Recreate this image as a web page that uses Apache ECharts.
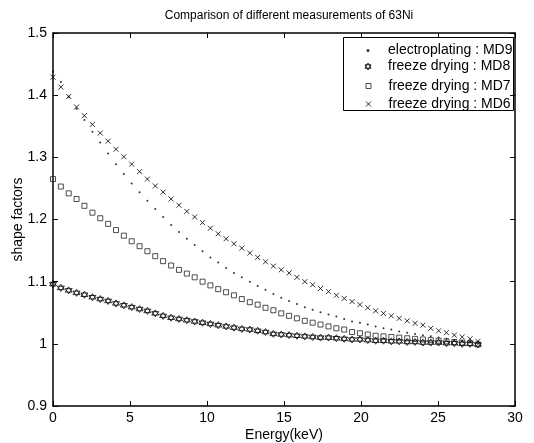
<!DOCTYPE html>
<html>
<head>
<meta charset="utf-8">
<script src="https://cdn.jsdelivr.net/npm/echarts@6/dist/echarts.min.js"></script>
<style>
html,body{margin:0;padding:0;background:#fff;}
#chart{width:534px;height:443px;}
</style>
</head>
<body>
<div id="chart"></div>
<script>
const energies = [0, 0.51, 1.02, 1.53, 2.04, 2.56, 3.07, 3.58, 4.09, 4.6, 5.11, 5.62, 6.13, 6.64, 7.15, 7.67, 8.18, 8.69, 9.2, 9.71, 10.22, 10.73, 11.24, 11.75, 12.26, 12.78, 13.29, 13.8, 14.31, 14.82, 15.33, 15.84, 16.35, 16.86, 17.37, 17.89, 18.4, 18.91, 19.42, 19.93, 20.44, 20.95, 21.46, 21.97, 22.48, 23.0, 23.51, 24.02, 24.53, 25.04, 25.55, 26.06, 26.57, 27.08, 27.59];

const md9 = [1.438, 1.421, 1.397, 1.378, 1.360, 1.341, 1.324, 1.306, 1.289, 1.273, 1.258, 1.244, 1.230, 1.217, 1.204, 1.191, 1.180, 1.169, 1.159, 1.149, 1.139, 1.131, 1.122, 1.114, 1.107, 1.100, 1.093, 1.087, 1.080, 1.074, 1.069, 1.064, 1.059, 1.055, 1.051, 1.047, 1.044, 1.040, 1.036, 1.034, 1.031, 1.028, 1.025, 1.023, 1.020, 1.018, 1.016, 1.014, 1.012, 1.010, 1.008, 1.006, 1.004, 1.002, 1.000];

const md8 = [1.096, 1.090, 1.086, 1.082, 1.079, 1.075, 1.072, 1.069, 1.065, 1.062, 1.059, 1.056, 1.053, 1.049, 1.045, 1.042, 1.040, 1.038, 1.036, 1.034, 1.032, 1.030, 1.028, 1.026, 1.024, 1.023, 1.021, 1.019, 1.016, 1.015, 1.014, 1.013, 1.012, 1.011, 1.010, 1.010, 1.009, 1.008, 1.007, 1.007, 1.006, 1.005, 1.005, 1.004, 1.004, 1.003, 1.003, 1.002, 1.002, 1.002, 1.001, 1.001, 1.000, 1.000, 0.999];

const md7 = [1.265, 1.253, 1.242, 1.233, 1.222, 1.211, 1.202, 1.193, 1.183, 1.174, 1.165, 1.157, 1.149, 1.141, 1.133, 1.126, 1.119, 1.113, 1.107, 1.100, 1.094, 1.088, 1.083, 1.078, 1.072, 1.067, 1.063, 1.058, 1.054, 1.049, 1.045, 1.041, 1.037, 1.034, 1.031, 1.028, 1.025, 1.023, 1.019, 1.017, 1.015, 1.013, 1.012, 1.011, 1.010, 1.009, 1.008, 1.007, 1.006, 1.005, 1.004, 1.003, 1.002, 1.001, 0.999];

const md6 = [1.429, 1.413, 1.398, 1.381, 1.367, 1.353, 1.339, 1.326, 1.313, 1.301, 1.289, 1.277, 1.265, 1.254, 1.244, 1.233, 1.223, 1.213, 1.204, 1.195, 1.186, 1.177, 1.169, 1.161, 1.154, 1.146, 1.139, 1.132, 1.125, 1.119, 1.114, 1.107, 1.100, 1.095, 1.089, 1.084, 1.078, 1.073, 1.068, 1.063, 1.058, 1.053, 1.049, 1.045, 1.041, 1.037, 1.033, 1.030, 1.025, 1.021, 1.018, 1.014, 1.011, 1.008, 1.004];

const seriesNames = ['electroplating : MD9', 'freeze drying : MD8', 'freeze drying : MD7', 'freeze drying : MD6'];
const xTicks = {min: 0, max: 30, interval: 5};
const yTicks = {min: 0.9, max: 1.5, interval: 0.1};

const FONT = 'Liberation Sans, Arial, Helvetica, sans-serif';
const SYM_CROSS = 'path://M0,0L10,10M10,0L0,10';
const SYM_STAR = 'path://M5,0L9.33,7.5L0.67,7.5Z M5,10L0.67,2.5L9.33,2.5Z';
const SYM_SQUARE = 'path://M0,0L10,0L10,10L0,10Z';

function pairs(ys){ return energies.map((x,i)=>[x, ys[i]]); }

const chart = echarts.init(document.getElementById('chart'), null, {renderer:'canvas'});

const axisLine = {show:true, onZero:false, lineStyle:{color:'#000', width:1.5}};
const tickIn = {show:true, inside:true, length:5, lineStyle:{color:'#000', width:1}};

const specs = [
  {data: md9, symbol: 'circle', size: 2, style: {color:'#000'}, ls: 3},
  {data: md8, symbol: SYM_STAR, size: 7, style: {color:'rgba(0,0,0,0)', borderColor:'#000', borderWidth:1}, ls: 7},
  {data: md7, symbol: SYM_SQUARE, size: 5, style: {color:'rgba(0,0,0,0)', borderColor:'#222', borderWidth:1}, ls: 5},
  {data: md6, symbol: SYM_CROSS, size: 5, style: {color:'rgba(0,0,0,0)', borderColor:'#000', borderWidth:1}, ls: 5}
];
const legendY = [47.5, 65.5, 84, 102];

const option = {
  backgroundColor: '#fff',
  animation: false,
  title: {
    text: 'Comparison of different measurements of 63Ni',
    left: 284, top: 5, textAlign: 'center',
    textStyle: {fontFamily: FONT, fontSize: 12, fontWeight: 'normal', color: '#000'}
  },
  grid: {left: 53, top: 33, width: 462, height: 373, containLabel: false, outerBoundsMode: 'none'},
  xAxis: [
    {type:'value', position:'bottom', min:xTicks.min, max:xTicks.max, interval:xTicks.interval,
     name:'Energy(keV)', nameLocation:'middle', nameGap:22, nameMoveOverlap:false,
     nameTextStyle:{fontFamily:FONT, fontSize:14, color:'#000'},
     axisLine: axisLine, axisTick: tickIn,
     axisLabel:{fontFamily:FONT, fontSize:14, color:'#000', margin:5},
     splitLine:{show:false}},
    {type:'value', position:'top', min:xTicks.min, max:xTicks.max, interval:xTicks.interval,
     axisLine: axisLine, axisTick: tickIn, axisLabel:{show:false}, splitLine:{show:false}}
  ],
  yAxis: [
    {type:'value', position:'left', min:yTicks.min, max:yTicks.max, interval:yTicks.interval,
     name:'shape factors', nameLocation:'middle', nameGap:28, nameRotate:90, nameMoveOverlap:false,
     nameTextStyle:{fontFamily:FONT, fontSize:14, color:'#000'},
     axisLine: axisLine, axisTick: tickIn,
     axisLabel:{fontFamily:FONT, fontSize:14, color:'#000', margin:6,
       formatter: v => String(Math.round(v*10)/10)},
     splitLine:{show:false}},
    {type:'value', position:'right', min:yTicks.min, max:yTicks.max, interval:yTicks.interval,
     axisLine: axisLine, axisTick: tickIn, axisLabel:{show:false}, splitLine:{show:false}}
  ],
  legend: specs.map((s,i)=>({
    orient:'vertical',
    left: 368 - s.ls/2, top: legendY[i] - s.ls/2 - 2.5,
    itemWidth: 30, itemHeight: s.ls,
    data: [{name: seriesNames[i], icon: s.symbol, itemStyle: s.style}],
    textStyle:{fontFamily:FONT, fontSize:14, color:'#000'},
    selectedMode:false, padding:0
  })),
  graphic: [
    {type:'rect', shape:{x:343.5, y:37.5, width:170, height:73}, z:-1,
     style:{fill:'#fff', stroke:'#000', lineWidth:1}}
  ],
  series: specs.map((s,i)=>({
    type:'scatter', name: seriesNames[i], data: pairs(s.data),
    symbol: s.symbol, symbolSize: s.size, itemStyle: s.style,
    xAxisIndex:0, yAxisIndex:0, silent:true, z: 2
  }))
};
chart.setOption(option);
</script>
</body>
</html>
